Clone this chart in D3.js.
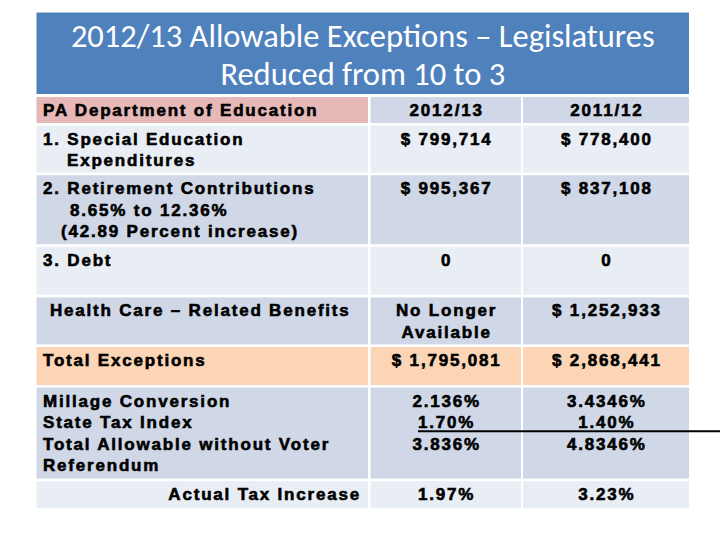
<!DOCTYPE html>
<html>
<head>
<meta charset="utf-8">
<script src="https://cdn.jsdelivr.net/npm/d3@7"></script>
<style>
  html, body { margin: 0; padding: 0; background: #ffffff; }
  svg { display: block; }
</style>
</head>
<body>
<svg id="chart" width="720" height="540"></svg>
<script>
// ---------- data ----------
const titleLines = ["2012/13 Allowable Exceptions \u2013 Legislatures", "Reduced from 10 to 3"];
const columnHeaders = ["PA Department of Education", "2012/13", "2011/12"];
const rowLabels = [
  ["1. Special Education", "Expenditures"],
  ["2. Retirement Contributions", "8.65% to 12.36%", "(42.89 Percent increase)"],
  ["3. Debt"],
  ["Health Care \u2013 Related Benefits"],
  ["Total Exceptions"],
  ["Millage Conversion", "State Tax Index", "Total Allowable without Voter", "Referendum"],
  ["Actual Tax Increase"]
];
const values2012 = [
  ["$ 799,714"],
  ["$ 995,367"],
  ["0"],
  ["No Longer", "Available"],
  ["$ 1,795,081"],
  ["2.136%", "1.70%", "3.836%"],
  ["1.97%"]
];
const values2011 = [
  ["$ 778,400"],
  ["$ 837,108"],
  ["0"],
  ["$ 1,252,933"],
  ["$ 2,868,441"],
  ["3.4346%", "1.40%", "4.8346%"],
  ["3.23%"]
];

// ---------- layout ----------
const svg = d3.select("#chart");
const W = 720, H = 540;
svg.append("rect").attr("width", W).attr("height", H).attr("fill", "#ffffff");

const colors = {
  title: "#4F81BD", pink: "#E6B9B8", mid: "#D0D8E8", light: "#E9EDF4", peach: "#FBD5B5"
};
const tableLeft = 36.5, tableRight = 689;
const gap = 2.6;

const colX = d3.scaleOrdinal().domain([0, 1, 2]).range([tableLeft, 370.5, 523]);
const colW = d3.scaleOrdinal().domain([0, 1, 2]).range([368 - tableLeft, 521 - 370.5, tableRight - 523]);

// title block
const titleTop = 12.5, titleBottom = 94;
svg.append("rect")
  .attr("x", tableLeft).attr("y", titleTop)
  .attr("width", tableRight - tableLeft).attr("height", titleBottom - titleTop)
  .attr("fill", colors.title);

const titleFont = "Carlito, Calibri, Lato, 'Open Sans', sans-serif";
const titleBaselines = [47, 84.5];
const titleTexts = svg.append("g").selectAll("text").data(titleLines).join("text")
  .attr("x", (tableLeft + tableRight) / 2)
  .attr("y", (d, i) => titleBaselines[i])
  .attr("text-anchor", "middle")
  .attr("fill", "#ffffff")
  .attr("font-family", titleFont)
  .attr("font-size", 32)
  .text(d => d);
{
  const node = titleTexts.nodes()[0];
  const w = node.getComputedTextLength();
  titleTexts.attr("font-size", 32 * 584 / w);
}

// rows
const rowHeights = [26, 47, 69, 48, 47, 38, 91, 27];
const rowFills = [
  [colors.pink, colors.mid, colors.mid],
  [colors.light, colors.light, colors.light],
  [colors.mid, colors.mid, colors.mid],
  [colors.light, colors.light, colors.light],
  [colors.mid, colors.mid, colors.mid],
  [colors.peach, colors.peach, colors.peach],
  [colors.mid, colors.mid, colors.mid],
  [colors.light, colors.light, colors.light]
];
const rowTops = [];
{
  let y = 97;
  rowHeights.forEach(h => { rowTops.push(y); y += h + gap; });
}

const bodyFont = "'Liberation Sans', Arial, sans-serif";
const fontSize = 17, letterSp = 1.8, lineH = 21.6, firstBase = 19;

const cells = [];
rowHeights.forEach((h, r) => {
  [0, 1, 2].forEach(c => cells.push({ r, c, h }));
});
svg.append("g").selectAll("rect").data(cells).join("rect")
  .attr("x", d => colX(d.c))
  .attr("y", d => rowTops[d.r])
  .attr("width", d => colW(d.c))
  .attr("height", d => d.h)
  .attr("fill", d => rowFills[d.r][d.c]);

const textG = svg.append("g")
  .attr("font-family", bodyFont)
  .attr("font-weight", "bold")
  .attr("font-size", fontSize)
  .attr("letter-spacing", letterSp)
  .attr("fill", "#000000")
  .attr("stroke", "#000000")
  .attr("stroke-width", 0.6);

// header row
textG.append("text")
  .attr("x", 43).attr("y", rowTops[0] + firstBase)
  .text(columnHeaders[0]);
[1, 2].forEach(c => {
  textG.append("text")
    .attr("x", colX(c) + colW(c) / 2 + letterSp / 2)
    .attr("y", rowTops[0] + firstBase)
    .attr("text-anchor", "middle")
    .text(columnHeaders[c]);
});

const labelIndent = [
  [43, 67],
  [43, 70, 61],
  [43],
  [50],
  [43],
  [43, 43, 43, 43],
  [null]
];

rowLabels.forEach((lines, i) => {
  const r = i + 1;
  lines.forEach((t, j) => {
    const ind = labelIndent[i][j];
    const el = textG.append("text")
      .attr("y", rowTops[r] + firstBase + j * lineH)
      .text(t);
    if (ind === null) {
      el.attr("x", 361).attr("text-anchor", "end");
    } else {
      el.attr("x", ind);
    }
  });
});

let underlineStart = null;
[values2012, values2011].forEach((vals, k) => {
  const c = k + 1;
  vals.forEach((lines, i) => {
    const r = i + 1;
    lines.forEach((t, j) => {
      const el = textG.append("text")
        .attr("x", colX(c) + colW(c) / 2 + letterSp / 2)
        .attr("y", rowTops[r] + firstBase + j * lineH)
        .attr("text-anchor", "middle")
        .text(t);
      if (k === 0 && i === 5 && j === 1) {
        const bb = el.node().getBBox();
        underlineStart = { x: bb.x, y: rowTops[r] + firstBase + j * lineH + 3 };
      }
    });
  });
});

if (underlineStart) {
  svg.append("line")
    .attr("x1", underlineStart.x).attr("x2", W)
    .attr("y1", underlineStart.y).attr("y2", underlineStart.y)
    .attr("stroke", "#000000")
    .attr("stroke-width", 2);
}
</script>
</body>
</html>
